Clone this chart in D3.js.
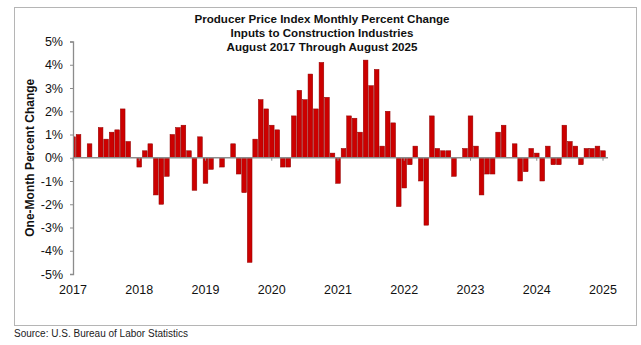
<!DOCTYPE html>
<html>
<head>
<meta charset="utf-8">
<script src="https://cdn.jsdelivr.net/npm/d3@7"></script>
<style>
  html, body { margin: 0; padding: 0; background: #fff; }
  svg { display: block; font-family: "Liberation Sans", Arial, sans-serif; }
</style>
</head>
<body>
<svg id="chart" width="641" height="345"></svg>
<script>
// Monthly percent change, August 2017 through August 2025
const startMonth = "2017-08";
const changes = [
  0.9, 1.0, 0.0, 0.6, 0.0, 1.3, 0.8, 1.1, 1.2, 2.1, 0.7, 0.0,
  -0.4, 0.3, 0.6, -1.6, -2.0, -0.8, 1.0, 1.3, 1.4, 0.3, -1.4, 0.9,
  -1.1, -0.5, 0.0, -0.4, 0.0, 0.6, -0.7, -1.5, -4.5, 0.8, 2.5, 2.1,
  1.4, 1.2, -0.4, -0.4, 1.8, 2.9, 2.5, 3.6, 2.1, 4.1, 2.6, 0.2,
  -1.1, 0.4, 1.8, 1.7, 1.1, 4.2, 3.1, 3.8, 0.5, 2.0, 1.5, -2.1,
  -1.3, -0.3, 0.5, -1.0, -2.9, 1.8, 0.4, 0.3, 0.3, -0.8, 0.0, 0.4,
  1.8, 0.5, -1.6, -0.7, -0.7, 1.1, 1.4, 0.0, 0.6, -1.0, -0.6, 0.4,
  0.2, -1.0, 0.5, -0.3, -0.3, 1.4, 0.7, 0.5, -0.3, 0.4, 0.4, 0.5,
  0.3
];
const yearLabels = ["2017", "2018", "2019", "2020", "2021", "2022", "2023", "2024", "2025"];
const yTicks = [5, 4, 3, 2, 1, 0, -1, -2, -3, -4, -5];
const titleLines = [
  "Producer Price Index Monthly Percent Change",
  "Inputs to Construction Industries",
  "August 2017 Through August 2025"
];
const yTitle = "One-Month Percent Change";
const sourceNote = "Source: U.S. Bureau of Labor Statistics";

const svg = d3.select("#chart");

// outer frame
svg.append("rect")
  .attr("x", 14.5).attr("y", 7.5)
  .attr("width", 622).attr("height", 318)
  .attr("fill", "#fff").attr("stroke", "#b5b5b5").attr("stroke-width", 1);

const plot = { left: 73, right: 608, top: 41.5, bottom: 274 };

const x = d3.scaleLinear().domain([0, changes.length - 1]).range([plot.left, 603]);
const y = d3.scaleLinear().domain([-5, 5]).range([plot.bottom, plot.top]);
const barW = 4.7;

// title
svg.append("g").selectAll("text").data(titleLines).join("text")
  .attr("x", 322).attr("y", (d, i) => 23 + i * 14)
  .attr("text-anchor", "middle")
  .attr("font-size", "11.6px").attr("font-weight", "bold").attr("fill", "#111")
  .text(d => d);

// clip so the first bar is cut at the value axis
svg.append("clipPath").attr("id", "plotClip")
  .append("rect").attr("x", plot.left).attr("y", 0)
  .attr("width", plot.right - plot.left).attr("height", 345);

svg.append("g").attr("clip-path", "url(#plotClip)")
  .selectAll("rect").data(changes).join("rect")
  .attr("x", (d, i) => x(i) - barW / 2)
  .attr("width", barW)
  .attr("y", d => y(Math.max(0, d)))
  .attr("height", d => Math.abs(y(d) - y(0)))
  .attr("fill", "#cc0000")
  .attr("stroke", "#8e0000")
  .attr("stroke-width", 0.5);

// zero line with year ticks
svg.append("line")
  .attr("x1", plot.left).attr("x2", plot.right)
  .attr("y1", y(0)).attr("y2", y(0))
  .attr("stroke", "#8c8c8c").attr("stroke-width", 1.3);

const yearIdx = yearLabels.map((d, i) => i * 12);
svg.append("g").selectAll("line").data(yearIdx).join("line")
  .attr("x1", d => x(d)).attr("x2", d => x(d))
  .attr("y1", y(0)).attr("y2", y(0) + 3)
  .attr("stroke", "#8c8c8c").attr("stroke-width", 1);

// value axis
const yAxis = d3.axisLeft(y).tickValues(yTicks).tickSize(3).tickPadding(7)
  .tickFormat(d => d + "%");
const ya = svg.append("g").attr("transform", `translate(${plot.left},0)`).call(yAxis);
ya.select(".domain").attr("stroke", "#8c8c8c").attr("stroke-width", 1.3);
ya.selectAll(".tick line").attr("stroke", "#8c8c8c");
ya.selectAll(".tick text").attr("font-size", "12.5px").attr("fill", "#111")
  .attr("font-family", "Liberation Sans, Arial, sans-serif");

// year labels along the bottom
svg.append("g").selectAll("text").data(yearLabels).join("text")
  .attr("x", (d, i) => x(yearIdx[i]))
  .attr("y", 294)
  .attr("text-anchor", "middle")
  .attr("font-size", "12.5px").attr("fill", "#111")
  .text(d => d);

// axis title
svg.append("text")
  .attr("transform", `translate(34,${y(0)}) rotate(-90)`)
  .attr("text-anchor", "middle")
  .attr("font-size", "12px").attr("font-weight", "bold").attr("fill", "#111")
  .text(yTitle);

// source note
svg.append("text")
  .attr("x", 14).attr("y", 337)
  .attr("font-size", "10px").attr("fill", "#222")
  .text(sourceNote);
</script>
</body>
</html>
